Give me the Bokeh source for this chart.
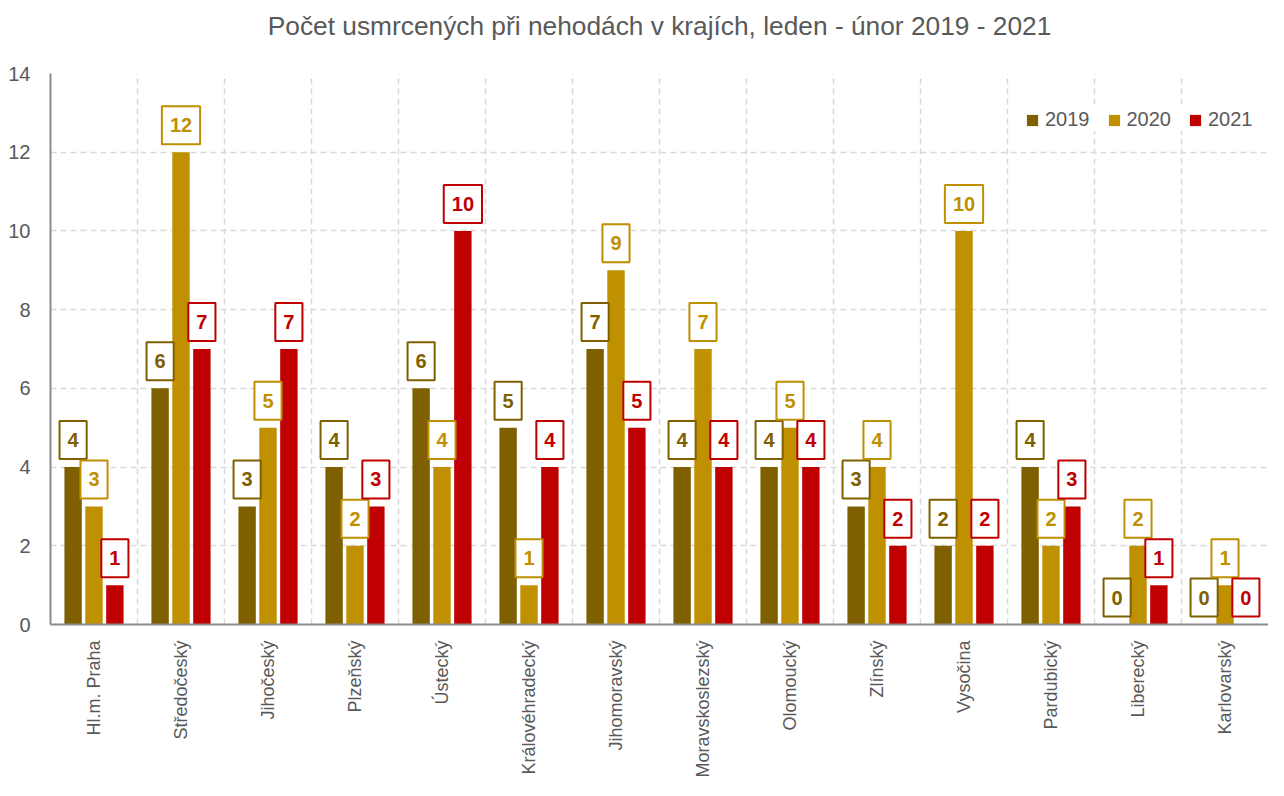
from bokeh.plotting import figure
from bokeh.models import ColumnDataSource, FixedTicker, Legend, LegendItem, Range1d, Title
from bokeh.core.properties import value
from bokeh.embed import file_html
from bokeh.resources import INLINE

regions = ["Hl.m. Praha", "Středočeský", "Jihočeský", "Plzeňský", "Ústecký",
           "Královéhradecký", "Jihomoravský", "Moravskoslezský", "Olomoucký",
           "Zlínský", "Vysočina", "Pardubický", "Liberecký", "Karlovarský"]
years = ["2019", "2020", "2021"]
v2019 = [4, 6, 3, 4, 6, 5, 7, 4, 4, 3, 2, 4, 0, 0]
v2020 = [3, 12, 5, 2, 4, 1, 9, 7, 5, 4, 10, 2, 2, 1]
v2021 = [1, 7, 7, 3, 10, 4, 5, 4, 4, 2, 2, 3, 1, 0]
colors = ["#7F6000", "#BF9000", "#C00000"]
y_ticks = [0, 2, 4, 6, 8, 10, 12, 14]
title_text = "Počet usmrcených při nehodách v krajích, leden - únor 2019 - 2021"

FONT = "'Liberation Sans', Arial, sans-serif"
GREY = "#595959"

p = figure(width=1268, height=780, output_backend="svg", toolbar_location=None,
           x_range=Range1d(0, len(regions)), y_range=Range1d(0, 14),
           min_border_left=50, min_border_right=0, min_border_top=73,
           min_border_bottom=150)

# spacer between the frame and the title (pushes the title upward)
p.add_layout(Title(text=" ", text_font_size="14px", standoff=10), "above")

p.title.text = title_text
p.title.align = "center"
p.title.offset = -8
p.title.text_font = FONT
p.title.text_font_size = "26.3px"
p.title.text_font_style = "normal"
p.title.text_color = GREY
p.title.standoff = 10

series = [v2019, v2020, v2021]
offsets = [-0.24, 0.0, 0.24]
renderers = []
for vals, col, off in zip(series, colors, offsets):
    src = ColumnDataSource(dict(x=[i + 0.5 + off for i in range(len(regions))],
                                top=vals, label=[str(v) for v in vals]))
    r = p.vbar(x="x", top="top", bottom=0, width=0.2, source=src,
               fill_color=col, line_color=None)
    renderers.append((r, src, col))

for r, src, col in renderers:
    p.text(x="x", y="top", text="label", source=src,
           text_font=value(FONT), text_font_size="20px", text_font_style="bold",
           text_color=col, text_align="center", text_baseline="middle",
           anchor="bottom_center", y_offset=-8,
           padding=dict(left=8, right=8, top=12, bottom=12),
           background_fill_color="white", border_line_color=col,
           border_line_width=2)

# axes
p.xaxis.ticker = FixedTicker(ticks=[i + 0.5 for i in range(len(regions))])
p.xaxis.major_label_overrides = {i + 0.5: n for i, n in enumerate(regions)}
p.xaxis.major_label_orientation = 1.5707963
p.xaxis.major_label_text_font = FONT
p.xaxis.major_label_text_font_size = "18px"
p.xaxis.major_label_text_color = GREY
p.xaxis.major_label_standoff = 10
p.xaxis.major_tick_line_color = None
p.xaxis.minor_tick_line_color = None
p.xaxis.axis_line_color = "#8C8C8C"
p.xaxis.axis_line_width = 2

p.yaxis.ticker = FixedTicker(ticks=y_ticks)
p.yaxis.major_label_text_font = FONT
p.yaxis.major_label_text_font_size = "20px"
p.yaxis.major_label_text_color = GREY
p.yaxis.major_label_standoff = 14
p.yaxis.major_tick_line_color = None
p.yaxis.minor_tick_line_color = None
p.yaxis.axis_line_color = "#8C8C8C"
p.yaxis.axis_line_width = 2

p.xgrid.ticker = FixedTicker(ticks=list(range(len(regions) + 1)))
p.xgrid.grid_line_color = "#D9D9D9"
p.xgrid.grid_line_dash = "6 4"
p.xgrid.grid_line_width = 1.5
p.ygrid.ticker = FixedTicker(ticks=y_ticks)
p.ygrid.grid_line_color = "#D9D9D9"
p.ygrid.grid_line_dash = "6 4"
p.ygrid.grid_line_width = 1.5
p.outline_line_color = None

legend = Legend(items=[LegendItem(label=y, renderers=[r[0]]) for y, r in zip(years, renderers)],
                orientation="horizontal", location=(975, 493))
legend.label_text_font = FONT
legend.label_text_font_size = "20px"
legend.label_text_color = GREY
legend.glyph_width = 14
legend.glyph_height = 14
legend.spacing = 17
legend.label_standoff = 6
legend.margin = 0
legend.padding = 8
legend.border_line_color = None
legend.background_fill_color = "white"
legend.background_fill_alpha = 1
p.add_layout(legend)

open("out.html", "w").write(file_html(p, INLINE))
